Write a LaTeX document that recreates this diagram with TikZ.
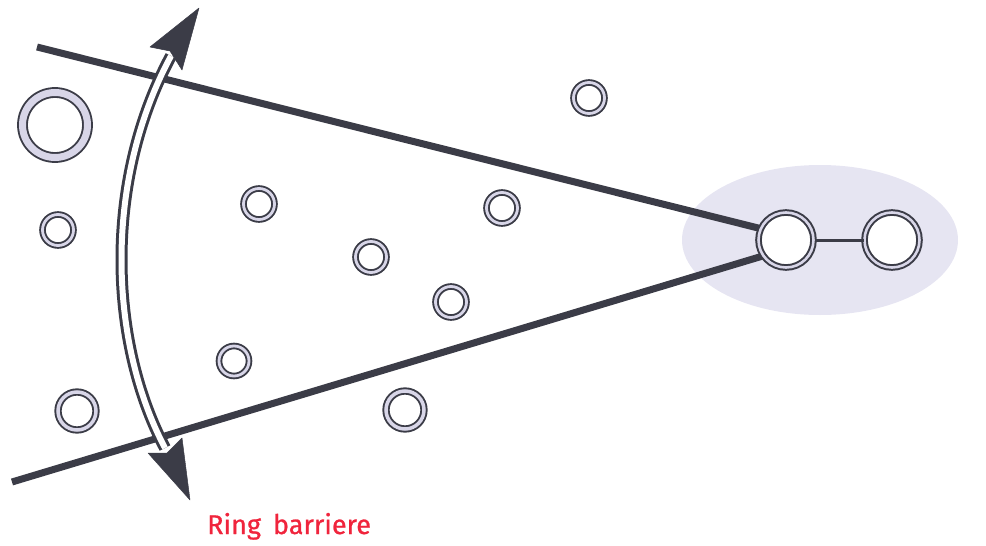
\documentclass[tikz,border=0pt]{standalone}
\usepackage{fontspec}
\usetikzlibrary{shapes.geometric}
\setsansfont{Fira Sans}
\definecolor{dk}{HTML}{3B3C47}
\definecolor{halo}{HTML}{E6E5F2}
\definecolor{band}{HTML}{D8D6E8}
\definecolor{lbl}{HTML}{F0243C}
\tikzset{
  ringsm/.style={circle, draw=dk, double=band, line width=1.9pt, double distance=2.8pt, fill=white, inner sep=0pt, minimum size=31pt},
  ringmd/.style={ringsm, minimum size=38pt, double distance=3.5pt},
  ringbg/.style={ringsm, minimum size=65pt, double distance=7pt},
  ringpair/.style={ringsm, minimum size=55pt, line width=2pt, double distance=2.6pt},
  barrier/.style={dk, line width=7pt},
  shaft/.style={draw=dk, double=white, line width=3pt, double distance=6pt},
  head/.style={fill=dk, draw=dk, line width=0.5pt, line join=round},
}
\begin{document}
\begin{tikzpicture}[x=1pt,y=-1pt]
\useasboundingbox (0,0) rectangle (986,546);
% halo
\node[ellipse, fill=halo, minimum width=276pt, minimum height=150pt, inner sep=0pt] (halo) at (820,240) {};
% pair rings positions
\coordinate (Lc) at (786,240);
\coordinate (Rc) at (892,240);
\coordinate (ua) at (37,47);
\coordinate (ub) at (786,235);
\coordinate (la) at (12,482);
\coordinate (lb) at (786,249);
\draw[barrier] (ua) -- (ub);
\draw[barrier] (la) -- (lb);
\node[ringpair] (L) at (Lc) {};
\node[ringpair] (R) at (Rc) {};
\draw[dk, line width=3pt] (L) -- (R);
% free rings
\node[ringbg] (c1) at (55,125) {};
\node[ringsm] (c2) at (589,98) {};
\node[ringsm] (c3) at (58,230) {};
\node[ringsm] (c4) at (259,204) {};
\node[ringsm] (c5) at (502,208) {};
\node[ringsm] (c6) at (371,257) {};
\node[ringsm] (c7) at (451,302) {};
\node[ringsm, minimum size=30pt] (c8) at (234,361) {};
\node[ringmd] (c9) at (77,411) {};
\node[ringmd] (c10) at (405,410) {};
% curved double arrow
\coordinate (st) at (171,56);
\coordinate (sb) at (165,448);
\draw[shaft] (st) .. controls (104,180) and (108,340) .. (sb);
\fill[head] (199,8) -- (150,47) -- (170,51) -- (182,70) -- cycle;
\fill[head] (190,500) -- (148,453) -- (167,453) -- (182,438) -- cycle;
% label
\node[text=lbl, font=\sffamily\addfontfeature{FakeBold=0.8}\fontsize{27}{30}\selectfont, anchor=base west, inner sep=0pt] (lab) at (207,534) {Ring\hspace{12pt}barriere};
\end{tikzpicture}
\end{document}
